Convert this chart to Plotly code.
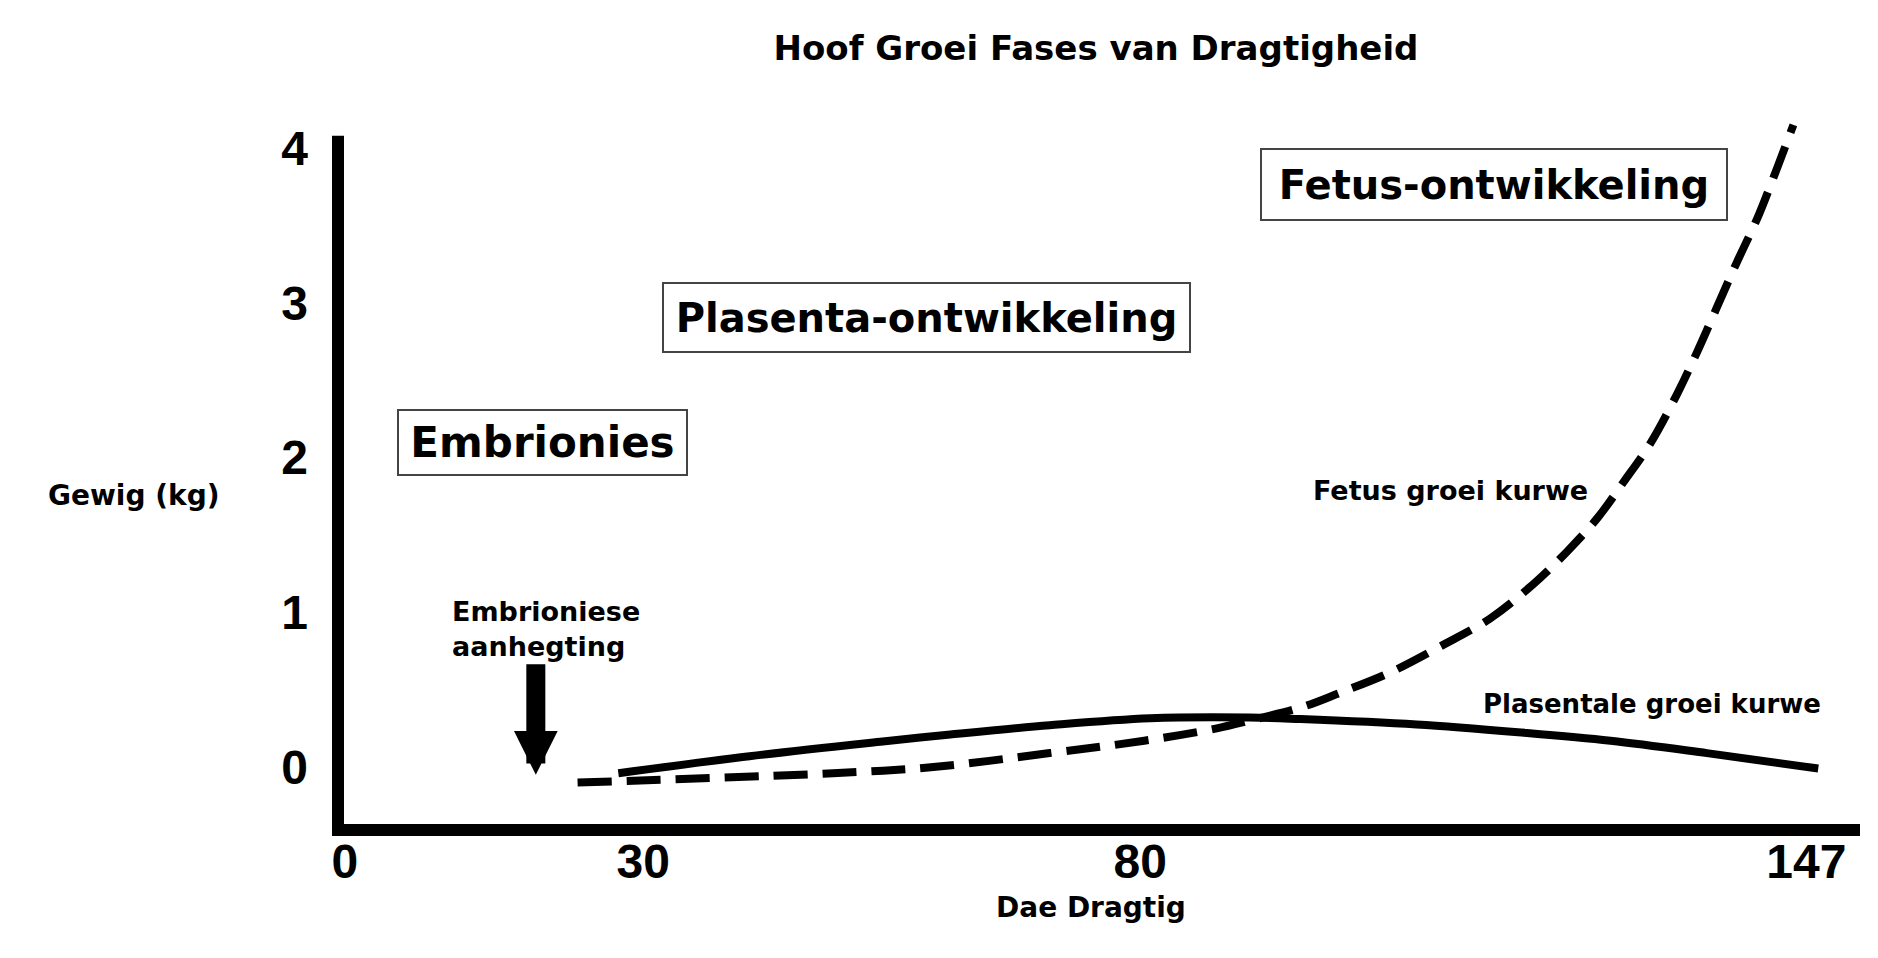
import plotly.graph_objects as go

# Dae dragtig vs gewig (kg)
fetus_days = [23.4, 37.4, 49.1, 59.2, 70.9, 80.4, 87.7, 91.0, 96.4, 100.1, 105.1,
              110.2, 115.2, 119.5, 122.9, 126.0, 128.6, 131.3, 134.0, 136.0, 138.0,
              140.0, 142.1, 143.7, 145.7]
fetus_weight = [-0.10, -0.07, -0.04, 0.00, 0.09, 0.17, 0.25, 0.30, 0.39, 0.48, 0.61,
                0.78, 0.96, 1.18, 1.39, 1.61, 1.84, 2.09, 2.41, 2.68, 2.97,
                3.26, 3.55, 3.81, 4.15]

placenta_days = [27.5, 40.7, 54.1, 60.9, 70.9, 81.0, 91.0, 96.1, 107.8, 118.0, 127.3, 137.0, 148.2]
placenta_weight = [-0.04, 0.07, 0.165, 0.21, 0.27, 0.315, 0.32, 0.31, 0.275, 0.225, 0.17, 0.09, -0.01]

x_ticks = [0, 30, 80, 147]
y_ticks = [0, 1, 2, 3, 4]

BOLD = dict(family="DejaVu Sans", color="black", weight="bold")
TICK = dict(family="Liberation Sans", size=48, color="black", weight="bold")

fig = go.Figure()

fig.add_trace(go.Scatter(
    x=placenta_days, y=placenta_weight, mode="lines",
    line=dict(color="black", width=8, shape="spline", smoothing=1.0),
    name="Plasentale groei kurwe"
))
fig.add_trace(go.Scatter(
    x=fetus_days, y=fetus_weight, mode="lines",
    line=dict(color="black", width=8, shape="spline", smoothing=1.0, dash="34px,15px"),
    name="Fetus groei kurwe"
))

# thick L-shaped axes
fig.add_shape(type="path", xref="paper", yref="paper",
              path="M 0,0.9697 L 0,0 L 1,0",
              line=dict(color="black", width=12))

# phase boxes
boxes = [
    ("Embrionies", 19.87, 2.10, 287, 63, 42),
    ("Plasenta-ontwikkeling", 58.5, 2.905, 525, 67, 40),
    ("Fetus-ontwikkeling", 115.6, 3.764, 464, 69, 40),
]
for text, bx, by, bw, bh, fs in boxes:
    fig.add_annotation(
        x=bx, y=by, xref="x", yref="y", text=text, showarrow=False,
        font=dict(size=fs, **BOLD), width=bw, height=bh,
        bordercolor="#444444", borderwidth=2, borderpad=0,
        bgcolor="white", xanchor="center", yanchor="middle"
    )

# curve labels
fig.add_annotation(x=111.2, y=1.79, text="Fetus groei kurwe", showarrow=False,
                   font=dict(size=27, **BOLD))
fig.add_annotation(x=131.5, y=0.41, text="Plasentale groei kurwe", showarrow=False,
                   font=dict(size=26, **BOLD))

# embryo attachment label and arrow
fig.add_annotation(x=10.56, y=0.89, text="Embrioniese<br>aanhegting", showarrow=False,
                   xanchor="left", align="left", font=dict(size=27, **BOLD))
fig.add_annotation(x=19.2, y=-0.05, ax=0, ay=-112, text="", showarrow=True,
                   arrowhead=2, arrowwidth=19, arrowsize=0.46, arrowcolor="black")

# axis titles
fig.add_annotation(x=-0.134, y=0.4665, xref="paper", yref="paper", text="Gewig (kg)",
                   xanchor="center", yanchor="middle",
                   showarrow=False, font=dict(size=28, **BOLD))
fig.add_annotation(x=0.4947, y=-0.108, xref="paper", yref="paper", text="Dae Dragtig",
                   xanchor="center", yanchor="middle",
                   showarrow=False, font=dict(size=28, **BOLD))

fig.update_layout(
    width=1862, height=942,
    margin=dict(l=330, r=10, t=106, b=120),
    paper_bgcolor="white", plot_bgcolor="white",
    showlegend=False,
    title=dict(text="Hoof Groei Fases van Dragtigheid", x=0.5843, xanchor="center",
               y=0.9575, yanchor="middle", font=dict(size=34, **BOLD)),
    xaxis=dict(range=[-0.7, 152.4], tickvals=x_ticks, showgrid=False, zeroline=False,
               showline=False, ticks="", tickfont=TICK, ticklabelstandoff=-1),
    yaxis=dict(range=[-0.407, 4.22], tickvals=y_ticks, showgrid=False, zeroline=False,
               showline=False, ticks="", tickfont=TICK, ticklabelstandoff=29),
)

fig.write_html("out.html")
